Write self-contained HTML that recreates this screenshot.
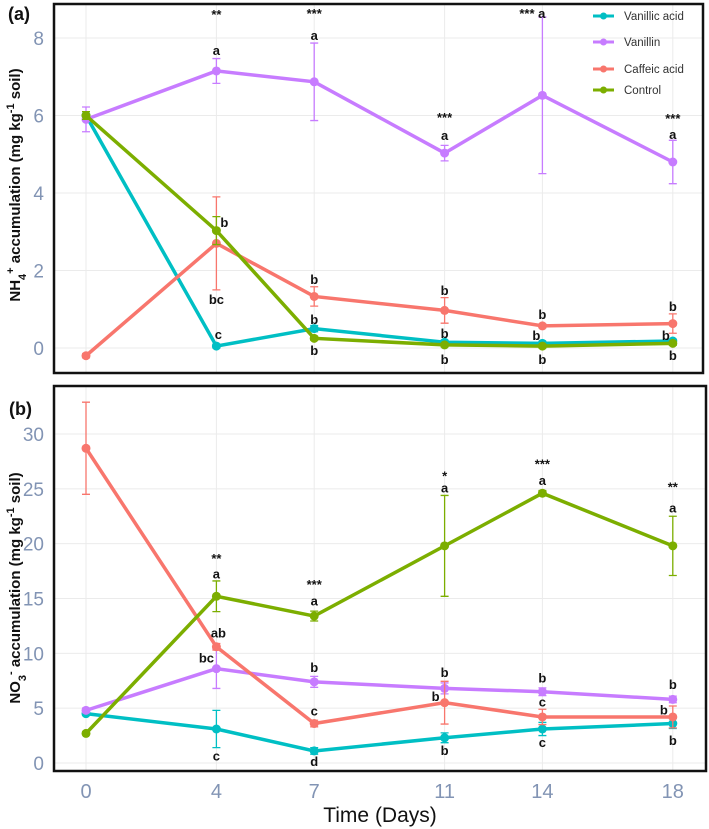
<!DOCTYPE html>
<html><head><meta charset="utf-8"><style>
body{margin:0;background:#fff}
svg{display:block;font-family:"Liberation Sans",Arial,sans-serif}
</style></head><body>
<svg id="chart" width="709" height="829" viewBox="0 0 709 829" xmlns="http://www.w3.org/2000/svg"></svg>
<script>
const days=[0,4,7,11,14,18];
const seriesNames=["Vanillic acid","Vanillin","Caffeic acid","Control"];
const colors=["#00BFC4","#C77CFF","#F8766D","#7CAE00"];
// Panel a: NH4+
const nhVanillic=[6.0,0.05,0.5,0.15,0.12,0.18];
const nhVanillicErr=[0.1,0.05,0.08,0.05,0.05,0.05];
const nhVanillin=[5.9,7.15,6.87,5.03,6.52,4.8];
const nhVanillinErr=[0.32,0.32,1.0,0.2,2.02,0.56];
const nhCaffeic=[-0.2,2.7,1.33,0.97,0.57,0.63];
const nhCaffeicErr=[0.05,1.2,0.25,0.33,0.05,0.25];
const nhControl=[6.0,3.03,0.25,0.08,0.05,0.12];
const nhControlErr=[0.1,0.36,0.05,0.05,0.05,0.05];
const nhTicks=[0,2,4,6,8];
const nhAnnDays=[4,7,11,14,18,4,7,11,18,4,4,4,7,7,7,11,11,11,14,14,14,18,18,18];
const nhAnnVals=[8.62,8.65,5.96,8.65,5.94,7.69,8.08,5.50,5.52,3.25,1.26,0.36,1.78,0.75,-0.05,1.50,0.39,-0.28,0.88,0.34,-0.28,1.08,0.34,-0.18];
const nhAnnText=["**","***","***","*** a","***","a","a","a","a","b","bc","c","b","b","b","b","b","b","b","b","b","b","b","b"];
const nhAnnDx=[0,0,0,-10,0,0,0,0,0,8,0,2,0,0,0,0,0,0,0,-6,0,0,-7,0];
// Panel b: NO3-
const noVanillic=[4.5,3.1,1.1,2.3,3.1,3.6];
const noVanillicErr=[0.15,1.7,0.3,0.45,0.6,0.45];
const noVanillin=[4.8,8.6,7.4,6.8,6.5,5.8];
const noVanillinErr=[0.2,1.8,0.5,0.5,0.35,0.3];
const noCaffeic=[28.7,10.6,3.6,5.5,4.2,4.2];
const noCaffeicErr=[4.2,0.3,0.3,1.95,0.7,1.0];
const noControl=[2.7,15.2,13.4,19.8,24.6,19.8];
const noControlErr=[0.15,1.4,0.45,4.6,0.25,2.7];
const noTicks=[0,5,10,15,20,25,30];
const noAnnDays=[4,4,7,7,4,4,7,7,7,4,11,11,11,11,11,14,14,14,14,14,18,18,18,18,18];
const noAnnVals=[18.7,17.3,16.3,14.8,11.9,9.6,8.75,4.8,0.2,0.7,26.2,25.1,8.3,6.1,1.2,27.3,25.8,7.8,5.6,1.9,25.2,23.3,7.2,4.9,2.1];
const noAnnText=["**","a","***","a","ab","bc","b","c","d","c","*","a","b","b","b","***","a","b","c","c","**","a","b","b","b"];
const noAnnDx=[0,0,0,0,2,-10,0,0,0,0,0,0,0,-9,0,0,0,0,0,0,0,0,0,-9,0];
const xTicks=[0,4,7,11,14,18];

const NS="http://www.w3.org/2000/svg";
const svg=document.getElementById('chart');
function mk(tag,attrs,parent){const e=document.createElementNS(NS,tag);for(const k in attrs)e.setAttribute(k,attrs[k]);(parent||svg).appendChild(e);return e;}
const xS=d=>86+d*32.6;

function panel(opt){
  const g=mk('g',{});
  
  
  const yS=v=>opt.y0+(v-opt.v0)*(opt.y1-opt.y0)/(opt.v1-opt.v0);
  opt.ticks.forEach(t=>{
    const l=mk('line',{x1:opt.left,x2:opt.right,y1:yS(t),y2:yS(t),stroke:'#ebebeb','stroke-width':1},g);
    
    
    const tx=mk('text',{x:opt.left-10,y:yS(t)+7,'text-anchor':'end','font-size':19,fill:'#8294b4'},g);
    tx.textContent=t;
    
    
  });
  xTicks.forEach(t=>{
    const l=mk('line',{x1:xS(t),x2:xS(t),y1:opt.top,y2:opt.bottom,stroke:'#ebebeb','stroke-width':1},g);
    
    
  });
  opt.series.forEach((s,i)=>{
    const sg=mk('g',{},g);
    
    
    s.v.forEach((v,j)=>{
      const x=xS(days[j]),e=s.e[j];
      const eb=mk('path',{d:`M${x},${yS(v-e)}V${yS(v+e)}M${x-4},${yS(v-e)}h8M${x-4},${yS(v+e)}h8`,stroke:colors[i],'stroke-width':1.3,fill:'none'},sg);
      
      
    });
    const pl=mk('polyline',{points:s.v.map((v,j)=>xS(days[j])+','+yS(v)).join(' '),fill:'none',stroke:colors[i],'stroke-width':3.5},sg);
    
    
    s.v.forEach((v,j)=>{
      const c=mk('circle',{cx:xS(days[j]),cy:yS(v),r:4.5,fill:colors[i]},sg);
      
      
    });
  });
  opt.annText.forEach((t,i)=>{
    const a=mk('text',{x:xS(opt.annDays[i])+opt.annDx[i],y:yS(opt.annVals[i])+5,'text-anchor':'middle','font-size':13,'font-weight':'bold',fill:'#111'},g);
    a.textContent=t;
    
    
  });
  const fr=mk('rect',{x:opt.left,y:opt.top,width:opt.right-opt.left,height:opt.bottom-opt.top,fill:'none',stroke:'#111','stroke-width':2.5},g);
  
  
  const pt=mk('text',{x:opt.lx,y:opt.ly,'font-size':18,'font-weight':'bold',fill:'#111'},g);
  pt.textContent=opt.label;
  
  
  const yt=mk('text',{x:0,y:0,transform:`translate(20,${opt.titleY}) rotate(-90)`,'text-anchor':'middle','font-size':15,'font-weight':'bold',fill:'#111'},g);
  yt.innerHTML=opt.title;
  
  
}
panel({name:'panel-a-nh4',left:54,right:703,top:4,bottom:373,y0:348,y1:38,v0:0,v1:8,ticks:nhTicks,
  series:[{v:nhVanillic,e:nhVanillicErr},{v:nhVanillin,e:nhVanillinErr},{v:nhCaffeic,e:nhCaffeicErr},{v:nhControl,e:nhControlErr}],
  annDays:nhAnnDays,annVals:nhAnnVals,annText:nhAnnText,annDx:nhAnnDx,label:'(a)',lx:8,ly:20,titleY:185,
  title:'NH<tspan baseline-shift="sub" font-size="11">4</tspan><tspan baseline-shift="super" font-size="11">+</tspan> accumulation (mg kg<tspan baseline-shift="super" font-size="11">-1</tspan> soil)'});
panel({name:'panel-b-no3',left:54,right:706,top:386,bottom:771,y0:763,y1:434,v0:0,v1:30,ticks:noTicks,
  series:[{v:noVanillic,e:noVanillicErr},{v:noVanillin,e:noVanillinErr},{v:noCaffeic,e:noCaffeicErr},{v:noControl,e:noControlErr}],
  annDays:noAnnDays,annVals:noAnnVals,annText:noAnnText,annDx:noAnnDx,label:'(b)',lx:9,ly:415,titleY:588,
  title:'NO<tspan baseline-shift="sub" font-size="11">3</tspan><tspan baseline-shift="super" font-size="11">-</tspan> accumulation (mg kg<tspan baseline-shift="super" font-size="11">-1</tspan> soil)'});
xTicks.forEach(t=>{
  const tx=mk('text',{x:xS(t),y:798,'text-anchor':'middle','font-size':20,fill:'#8294b4'});
  tx.textContent=t;
  
  
});
const xt=mk('text',{x:380,y:822,'text-anchor':'middle','font-size':21,fill:'#111'});
xt.textContent='Time (Days)';


const lg=mk('g',{});


const legY=[16,42,69,90];
seriesNames.forEach((n,i)=>{
  const ent=mk('g',{},lg);
  
  
  mk('line',{x1:593,x2:614,y1:legY[i],y2:legY[i],stroke:colors[i],'stroke-width':3},ent);
  mk('circle',{cx:603.5,cy:legY[i],r:3.5,fill:colors[i]},ent);
  const t=mk('text',{x:624,y:legY[i]+4,'font-size':11.5,fill:'#333'},ent);
  t.textContent=n;
});
</script>
</body></html>
